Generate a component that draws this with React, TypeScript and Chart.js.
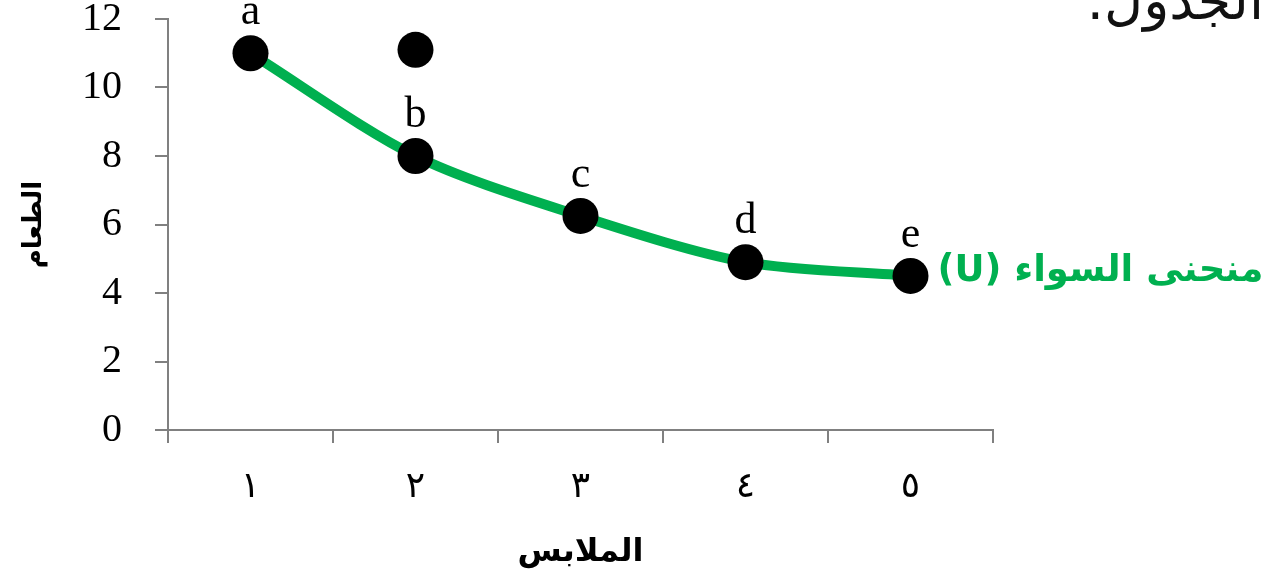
import React, { useEffect, useRef } from "react";
import { Chart, registerables } from "chart.js";

Chart.register(...registerables);

const categories = ["١", "٢", "٣", "٤", "٥"];
const curveValues = [11, 8, 6.25, 4.9, 4.5];
const extraPointValues = [null, 11.1, null, null, null];
const pointLabels = ["a", "b", "c", "d", "e"];
const yMin = 0;
const yMax = 12;
const yStep = 2;
const xTitle = "الملابس";
const yTitle = "الطعام";
const curveName = "منحنى السواء (U)";
const headerText = "الجدول.";

const GREEN = "#00B050";
const AXIS = "#808080";

const annotationPlugin = {
  id: "annotations",
  afterDatasetsDraw(chart: any) {
    const ctx = chart.ctx as CanvasRenderingContext2D;
    const meta = chart.getDatasetMeta(0);
    ctx.save();
    ctx.fillStyle = "#000";
    ctx.font = '44px "Liberation Serif"';
    ctx.textAlign = "center";
    ctx.textBaseline = "alphabetic";
    meta.data.forEach((pt: any, i: number) => {
      ctx.fillText(pointLabels[i], pt.x, pt.y - 29);
    });
    const last = meta.data[meta.data.length - 1];
    (ctx as any).direction = "rtl";
    ctx.textAlign = "left";
    ctx.textBaseline = "middle";
    ctx.fillStyle = GREEN;
    ctx.font = 'bold 37px "DejaVu Sans"';
    ctx.fillText(curveName, last.x + 27, last.y - 4);
    ctx.fillStyle = "#111";
    ctx.font = '54px "DejaVu Sans"';
    ctx.textAlign = "right";
    ctx.textBaseline = "alphabetic";
    ctx.fillText(headerText, 1264, 19);
    ctx.restore();
  },
};

export default function App() {
  const canvasRef = useRef<HTMLCanvasElement | null>(null);

  useEffect(() => {
    if (!canvasRef.current) return;
    const chart = new Chart(canvasRef.current, {
      type: "line",
      data: {
        labels: categories,
        datasets: [
          {
            data: curveValues,
            borderColor: GREEN,
            borderWidth: 10,
            tension: 0.3,
            pointRadius: 18,
            pointBackgroundColor: "#000",
            pointBorderColor: "#000",
            pointBorderWidth: 0,
            fill: false,
          },
          {
            data: extraPointValues as any,
            showLine: false,
            pointRadius: 18,
            pointBackgroundColor: "#000",
            pointBorderColor: "#000",
            pointBorderWidth: 0,
          },
        ],
      },
      options: {
        responsive: false,
        animation: false,
        events: [],
        layout: { padding: { top: 19, right: 285, bottom: 0, left: 0 } },
        plugins: {
          legend: { display: false },
          tooltip: { enabled: false },
        },
        scales: {
          x: {
            type: "category",
            offset: true,
            grid: {
              display: true,
              drawOnChartArea: false,
              offset: true,
              tickLength: 13,
              color: AXIS,
              lineWidth: 2,
            },
            border: { display: true, color: AXIS, width: 2 },
            ticks: {
              color: "#000",
              font: { family: '"DejaVu Sans"', size: 36 },
              padding: 23,
              maxRotation: 0,
            },
            title: {
              display: true,
              text: xTitle,
              color: "#000",
              font: { family: '"DejaVu Sans"', size: 32, weight: "bold" },
              padding: { top: 0, bottom: 1 },
            },
            afterFit(scale: any) {
              scale.height = 143;
              scale.paddingLeft = 0;
              scale.paddingRight = 0;
            },
          },
          y: {
            min: yMin,
            max: yMax,
            ticks: {
              stepSize: yStep,
              color: "#000",
              font: { family: '"Liberation Serif"', size: 40, lineHeight: 1 },
              padding: 33,
            },
            grid: {
              display: true,
              drawOnChartArea: false,
              tickLength: 13,
              color: AXIS,
              lineWidth: 2,
            },
            border: { display: true, color: AXIS, width: 2 },
            title: {
              display: true,
              text: yTitle,
              color: "#000",
              font: { family: '"DejaVu Sans"', size: 26, weight: "bold" },
              padding: { top: 19, bottom: 0 },
            },
            afterFit(scale: any) {
              scale.width = 168;
              scale.paddingTop = 0;
              scale.paddingBottom = 0;
            },
          },
        },
      },
      plugins: [annotationPlugin],
    });
    return () => chart.destroy();
  }, []);

  return (
    <div style={{ position: "fixed", left: 0, top: 0, width: 1278, height: 573, background: "#fff" }}>
      <canvas ref={canvasRef} width={1278} height={573} style={{ display: "block" }} />
    </div>
  );
}
